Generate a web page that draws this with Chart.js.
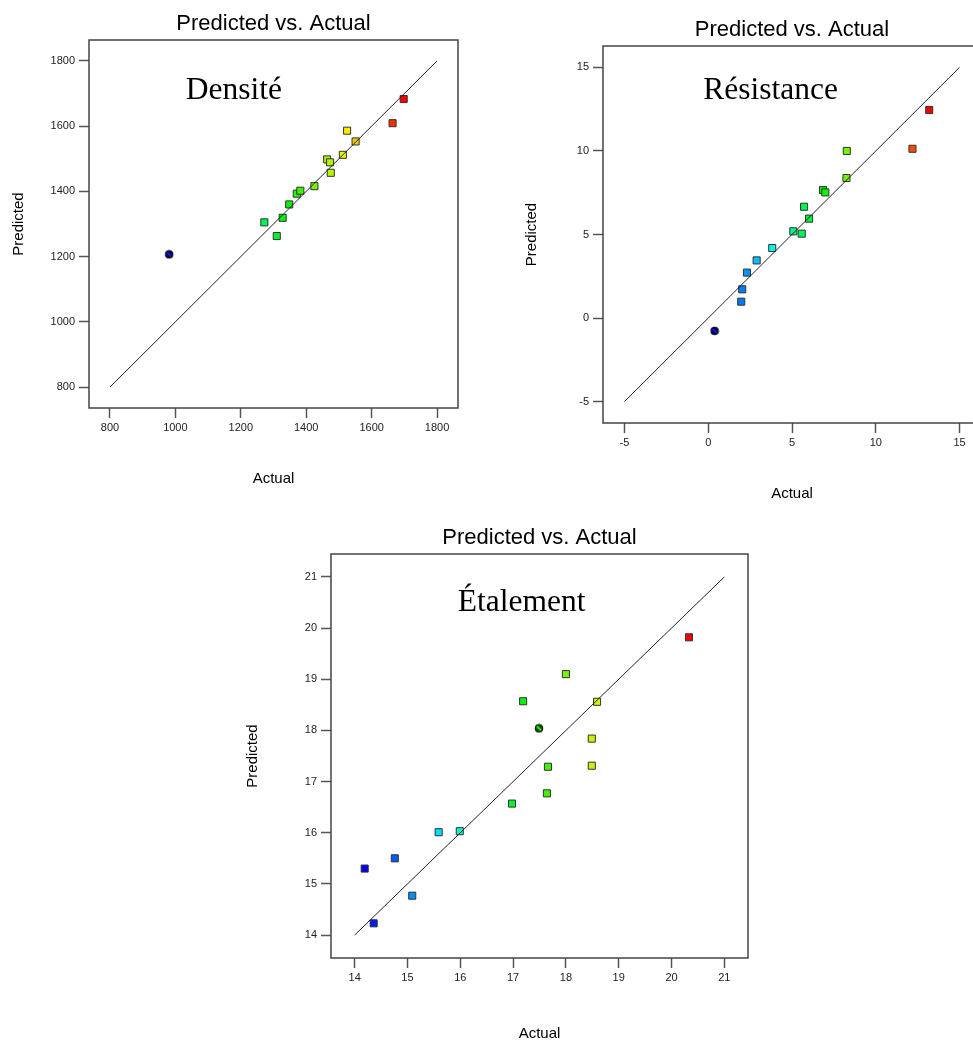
<!DOCTYPE html>
<html lang="fr">
<head>
  <meta charset="UTF-8">
  <title>Predicted vs. Actual</title>
  <script src="https://cdn.jsdelivr.net/npm/chart.js"></script>
  <style>
    * { box-sizing: border-box; }
    body {
      margin: 0;
      padding: 0;
      background: #fff;
      overflow: hidden;
    }
    #page {
      position: relative;
      width: 973px;
      height: 1059px;
      overflow: hidden;
      background: #fff;
    }
    canvas { position: absolute; }
  </style>
</head>
<body>
  <div id="page">
    <canvas id="c1" width="480" height="488" style="left:0px; top:0px;"></canvas>
    <canvas id="c2" width="489" height="497" style="left:514px; top:6px;"></canvas>
    <canvas id="c3" width="538" height="529" style="left:232px; top:514px;"></canvas>
  </div>
  <script>
// --- données ---
const densiteActual    = [981, 1272, 1310, 1328, 1348, 1371, 1382, 1425, 1464, 1473, 1475, 1512, 1525, 1551, 1664, 1698];
const densitePredicted = [1207, 1305, 1263, 1319, 1360, 1393, 1402, 1416, 1498, 1489, 1457, 1512, 1586, 1553, 1609, 1683];
const densiteTicks     = [800, 1000, 1200, 1400, 1600, 1800];
const densiteRepeat    = [0];

const resistanceActual    = [0.38, 1.97, 2.03, 2.31, 2.89, 3.82, 5.08, 5.58, 5.72, 6.02, 6.85, 6.99, 8.25, 8.27, 12.19, 13.19];
const resistancePredicted = [-0.77, 0.98, 1.72, 2.72, 3.45, 4.19, 5.19, 5.05, 6.66, 5.95, 7.66, 7.52, 8.38, 10.0, 10.13, 12.45];
const resistanceTicks     = [-5, 0, 5, 10, 15];
const resistanceRepeat    = [0];

const etalementActual    = [14.19, 14.36, 14.76, 15.09, 15.59, 15.99, 16.98, 17.19, 17.49, 17.64, 17.66, 18.00, 18.49, 18.49, 18.59, 20.33];
const etalementPredicted = [15.30, 14.23, 15.50, 14.77, 16.01, 16.03, 16.57, 18.57, 18.04, 16.77, 17.29, 19.10, 17.84, 17.31, 18.56, 19.82];
const etalementTicks     = [14, 15, 16, 17, 18, 19, 20, 21];
const etalementRepeat    = [8];

const SANS = 'Arial, "Liberation Sans", sans-serif';
const SERIF = '"Times New Roman", "Liberation Serif", serif';

// couleur arc-en-ciel : bleu (min) -> rouge (max)
function hueFor(v, lo, hi) {
  return 240 * (hi - v) / (hi - lo);
}

// petit rond foncé avec une barre claire (points répétés)
function repeatMarker(hue) {
  const c = document.createElement('canvas');
  c.width = 10; c.height = 10;
  const g = c.getContext('2d');
  g.beginPath();
  g.arc(5, 5, 3.9, 0, Math.PI * 2);
  g.fillStyle = 'hsl(' + hue + ',100%,18%)';
  g.fill();
  g.lineWidth = 1;
  g.strokeStyle = '#111';
  g.stroke();
  g.beginPath();
  g.moveTo(3, 3.2);
  g.lineTo(7, 6.8);
  g.lineWidth = 1.6;
  g.strokeStyle = 'hsl(' + hue + ',100%,55%)';
  g.stroke();
  return c;
}

// cadre autour de la zone du graphique + nom de la réponse
const cadrePlugin = {
  id: 'cadre',
  afterDatasetsDraw(chart, args, opts) {
    const a = chart.chartArea;
    const ctx = chart.ctx;
    ctx.save();
    ctx.strokeStyle = '#444';
    ctx.lineWidth = 1.5;
    ctx.strokeRect(a.left, a.top, a.right - a.left, a.bottom - a.top);
    ctx.fillStyle = '#000';
    ctx.font = '31.5px ' + SERIF;
    ctx.textAlign = 'left';
    ctx.textBaseline = 'alphabetic';
    ctx.fillText(opts.text, a.left + opts.fx * (a.right - a.left), a.top + opts.fy * (a.bottom - a.top));
    ctx.restore();
  }
};

function makeChart(id, cfg) {
  const lo = Math.min(...cfg.actual);
  const hi = Math.max(...cfg.actual);
  const first = cfg.ticks[0];
  const last = cfg.ticks[cfg.ticks.length - 1];
  const pad = (last - first) * 0.064;

  const points = cfg.actual.map((v, i) => ({x: v, y: cfg.predicted[i]}));

  const axisCommon = {
    type: 'linear',
    min: first - pad,
    max: last + pad,
    afterBuildTicks: s => { s.ticks = cfg.ticks.map(v => ({value: v})); },
    border: { display: false },
    grid: { drawOnChartArea: false, drawTicks: true, tickLength: 10, tickColor: '#555', tickWidth: 1.5 }
  };

  return new Chart(document.getElementById(id), {
    type: 'scatter',
    data: {
      datasets: [
        {
          // ligne y = x
          type: 'line',
          data: [{x: first, y: first}, {x: last, y: last}],
          borderColor: '#222',
          borderWidth: 1,
          pointRadius: 0,
          fill: false,
          tension: 0
        },
        {
          data: points,
          pointStyle: ctx => cfg.repeat.includes(ctx.dataIndex)
            ? repeatMarker(hueFor(ctx.raw.x, lo, hi)) : 'rect',
          pointRadius: 5,
          backgroundColor: ctx => 'hsl(' + hueFor(ctx.raw.x, lo, hi) + ',100%,48%)',
          borderColor: '#333',
          borderWidth: 1
        }
      ]
    },
    options: {
      responsive: false,
      animation: false,
      layout: { padding: { left: 0, top: 0, right: 22, bottom: 0 } },
      plugins: {
        legend: { display: false },
        tooltip: { enabled: false },
        title: {
          display: true,
          text: 'Predicted vs. Actual',
          fullSize: false,
          color: '#000',
          font: { family: SANS, size: 22, weight: 'normal' },
          padding: { top: 10.8, bottom: 2.8 }
        },
        cadre: { text: cfg.label, fx: cfg.fx, fy: cfg.fy }
      },
      scales: {
        x: Object.assign({}, axisCommon, {
          position: 'bottom',
          ticks: { font: { family: SANS, size: 11 }, color: '#222', padding: 3, callback: v => String(v) },
          afterFit: s => { s.height = cfg.xh; },
          title: { display: true, text: 'Actual', color: '#000',
                   font: { family: SANS, size: 15 }, padding: { top: 0, bottom: 0 } }
        }),
        y: Object.assign({}, axisCommon, {
          position: 'left',
          ticks: { font: { family: SANS, size: 11 }, color: '#222', padding: 4, callback: v => String(v) },
          afterFit: s => { s.width = cfg.yw; },
          title: { display: true, text: 'Predicted', color: '#000',
                   font: { family: SANS, size: 15 }, padding: { top: cfg.ytp, bottom: 0 } }
        })
      }
    },
    plugins: [cadrePlugin]
  });
}

makeChart('c1', {
  actual: densiteActual, predicted: densitePredicted, ticks: densiteTicks, repeat: densiteRepeat,
  label: 'Densité', fx: 0.262, fy: 0.160, xh: 80, yw: 89, ytp: 10
});
makeChart('c2', {
  actual: resistanceActual, predicted: resistancePredicted, ticks: resistanceTicks, repeat: resistanceRepeat,
  label: 'Résistance', fx: 0.265, fy: 0.140, xh: 80, yw: 89, ytp: 9
});
makeChart('c3', {
  actual: etalementActual, predicted: etalementPredicted, ticks: etalementTicks, repeat: etalementRepeat,
  label: 'Étalement', fx: 0.304, fy: 0.142, xh: 85, yw: 99, ytp: 11.5
});
  </script>
</body>
</html>
